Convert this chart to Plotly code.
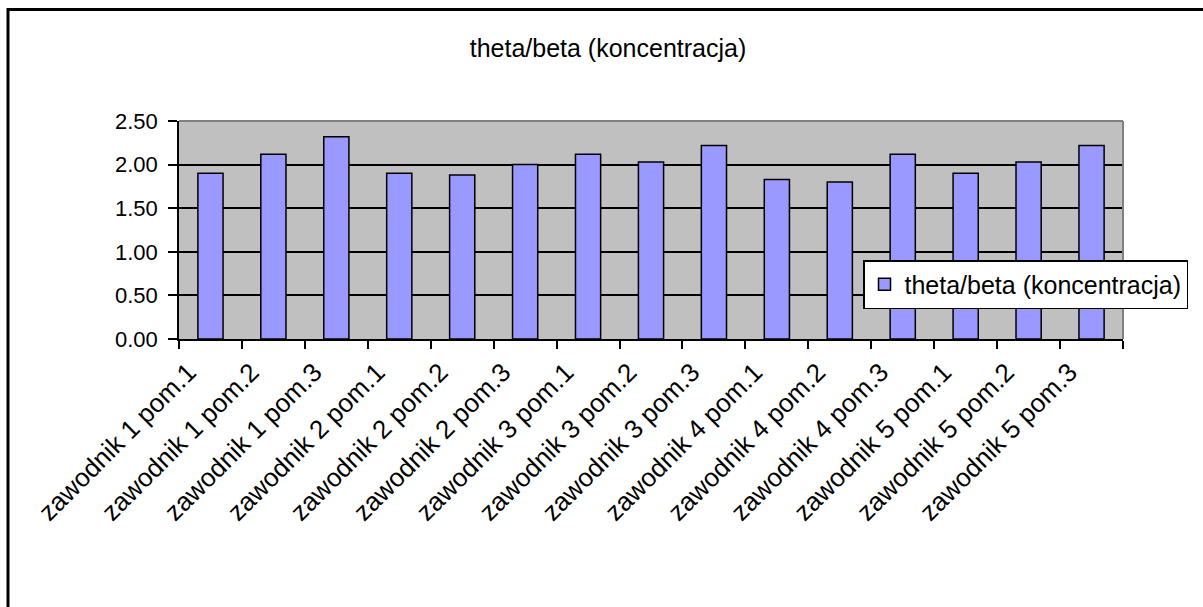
import plotly.graph_objects as go

# Chart data
categories = [
    "zawodnik 1 pom.1", "zawodnik 1 pom.2", "zawodnik 1 pom.3",
    "zawodnik 2 pom.1", "zawodnik 2 pom.2", "zawodnik 2 pom.3",
    "zawodnik 3 pom.1", "zawodnik 3 pom.2", "zawodnik 3 pom.3",
    "zawodnik 4 pom.1", "zawodnik 4 pom.2", "zawodnik 4 pom.3",
    "zawodnik 5 pom.1", "zawodnik 5 pom.2", "zawodnik 5 pom.3",
]
values = [1.90, 2.12, 2.32, 1.90, 1.88, 2.00,
          2.12, 2.03, 2.22, 1.83, 1.80, 2.12,
          1.90, 2.03, 2.22]
series_name = "theta/beta (koncentracja)"
y_ticks = [0.0, 0.5, 1.0, 1.5, 2.0, 2.5]

FONT = "Liberation Sans, Arial, sans-serif"

fig = go.Figure()
fig.add_trace(go.Bar(
    x=categories,
    y=values,
    name=series_name,
    marker=dict(color="#9999FF", line=dict(color="black", width=1.5)),
    showlegend=True,
))

fig.update_layout(
    width=1203,
    height=607,
    margin=dict(l=179, r=80, t=121, b=268),
    paper_bgcolor="white",
    plot_bgcolor="#C0C0C0",
    bargap=0.6,
    font=dict(family=FONT, size=22, color="black"),
    title=dict(
        text=series_name,
        x=608 / 1203, xref="container", xanchor="center",
        y=1 - 48 / 607, yref="container", yanchor="middle",
        font=dict(family=FONT, size=25, color="black"),
    ),
    legend=dict(
        x=(863 - 179) / 944, xanchor="left",
        y=(339 - 260) / 218, yanchor="top",
        bgcolor="white",
        bordercolor="black",
        borderwidth=1.5,
        font=dict(family=FONT, size=25, color="black"),
    ),
    xaxis=dict(
        type="category",
        tickangle=-45,
        tickson="boundaries",
        ticks="outside",
        ticklen=8,
        tickwidth=1.5,
        tickcolor="black",
        showline=True,
        linecolor="black",
        linewidth=1.5,
        showgrid=False,
        ticklabelstandoff=6,
        ticklabelshift=-22,
        tickfont=dict(family=FONT, size=26, color="black"),
    ),
    yaxis=dict(
        range=[0, 2.5],
        tickvals=y_ticks,
        tickformat=".2f",
        ticks="outside",
        ticklen=9,
        tickwidth=1.5,
        tickcolor="black",
        showline=True,
        linecolor="black",
        linewidth=1.5,
        showgrid=True,
        gridcolor="black",
        gridwidth=1.5,
        zeroline=False,
        ticklabelstandoff=6,
        tickfont=dict(family=FONT, size=22, color="black"),
    ),
    shapes=[
        # grey top and right edges of the plot area
        dict(type="line", xref="paper", yref="paper", x0=0, x1=1, y0=1, y1=1,
             line=dict(color="#808080", width=2), layer="above"),
        dict(type="line", xref="paper", yref="paper", x0=1, x1=1, y0=0, y1=1,
             line=dict(color="#808080", width=2), layer="above"),
        # outer chart frame
        dict(type="rect", xref="paper", yref="paper",
             x0=(8 - 179) / 944, x1=(1215 - 179) / 944,
             y0=(339 - 625) / 218, y1=(339 - 9.5) / 218,
             line=dict(color="black", width=3), layer="above"),
    ],
)

fig.write_html("out.html")
